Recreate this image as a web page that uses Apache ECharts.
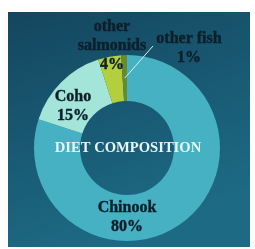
<!DOCTYPE html>
<html><head><meta charset="utf-8">
<script src="https://cdn.jsdelivr.net/npm/echarts@6/dist/echarts.min.js"></script>
<style>html,body{margin:0;padding:0;background:#fff;}#c{width:255px;height:249px;}</style>
</head><body><div id="c"></div>
<script>
const categories = ['Chinook', 'Coho', 'other salmonids', 'other fish'];
const values = [80, 15, 4, 1];
const labelNames = ['Chinook', 'Coho', 'other\nsalmonids', 'other fish'];
const colors = ['#46b1c3', '#a4e5d9', '#b4cf3d', '#6a8a2c'];
const centerTitle = 'DIET COMPOSITION';

const CX = 127, CY = 148, R0 = 47, R1 = 93;
const labelOffsets = [[0, 69], [-54, -42], [-15, -102], [62, -100]];
const FONT = '"Liberation Serif", "DejaVu Serif", serif';

const total = values.reduce((a, b) => a + b, 0);
let cum = 0; const mids = [];
values.forEach(v => { mids.push((cum + v / 2) / total * 2 * Math.PI); cum += v; });
const fishMid = mids[3];
const lineEnd = [CX + 70 * Math.sin(fishMid), CY - 70 * Math.cos(fishMid)];
const lineStart = [CX + labelOffsets[3][0] - 36, CY + labelOffsets[3][1] - 2];

const chart = echarts.init(document.getElementById('c'), null, {renderer: 'canvas'});
chart.setOption({
  animation: false,
  graphic: [
    {type: 'rect', z: -10, shape: {x: 8, y: 12, width: 242, height: 235},
     style: {fill: new echarts.graphic.LinearGradient(0, 0, 0.35, 1, [
       {offset: 0, color: '#14465e'}, {offset: 1, color: '#1d6a85'}])}},
    {type: 'text', z: 10, x: CX + 1, y: CY,
     style: {text: centerTitle, fill: '#e9f5f4', font: 'bold 14.6px ' + FONT,
             textAlign: 'center', textVerticalAlign: 'middle'}},
    {type: 'line', z: 10, shape: {x1: lineStart[0], y1: lineStart[1], x2: lineEnd[0], y2: lineEnd[1]},
     style: {stroke: '#d9eeee', lineWidth: 1}}
  ],
  series: [{
    type: 'pie',
    center: [CX, CY],
    radius: [R0, R1],
    startAngle: 90,
    clockwise: true,
    silent: true,
    itemStyle: {borderWidth: 0},
    label: {
      show: true, position: 'inside',
      formatter: p => labelNames[p.dataIndex] + '\n' + p.value + '%',
      color: '#0c1f2b', fontFamily: FONT, fontWeight: 'bold', fontSize: 16,
      lineHeight: 19, align: 'center',
      textBorderColor: '#0c1f2b', textBorderWidth: 0.4
    },
    labelLine: {show: false},
    labelLayout: p => ({
      x: CX + labelOffsets[p.dataIndex][0],
      y: CY + labelOffsets[p.dataIndex][1],
      align: 'center', verticalAlign: 'middle'
    }),
    data: categories.map((c, i) => ({name: c, value: values[i], itemStyle: {color: colors[i]}}))
  }]
});
</script></body></html>
